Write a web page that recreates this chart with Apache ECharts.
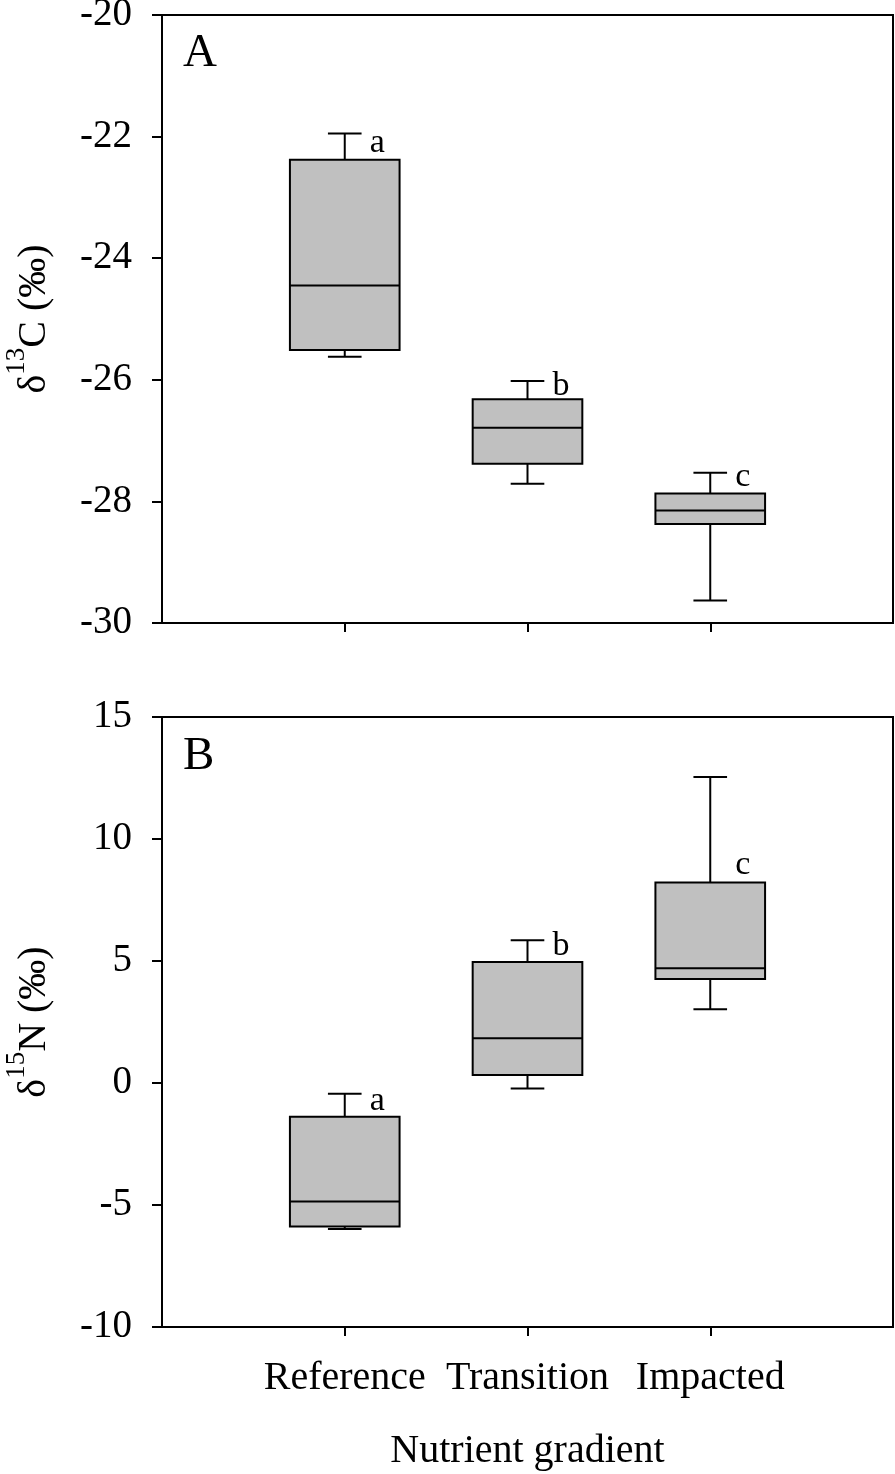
<!DOCTYPE html>
<html>
<head>
<meta charset="utf-8">
<script src="https://cdn.jsdelivr.net/npm/echarts@6/dist/echarts.min.js"></script>
<style>
  html, body { margin: 0; padding: 0; background: #fff; }
  #chart { width: 895px; height: 1474px; }
</style>
</head>
<body>
<div id="chart"></div>
<script>
// groups along the nutrient gradient
const categories = ["Reference", "Transition", "Impacted"];

// box stats per group: [min, q1, median, q3, max]
const carbonStats = [
  [-25.62, -25.51, -24.45, -22.38, -21.95],
  [-27.71, -27.38, -26.79, -26.32, -26.02],
  [-29.63, -28.37, -28.15, -27.87, -27.53],
];
const nitrogenStats = [
  [-5.98, -5.88, -4.86, -1.38, -0.44],
  [-0.23, 0.33, 1.83, 4.96, 5.85],
  [3.02, 4.26, 4.7, 8.22, 12.54],
];

// significance letters and the value they sit at
const carbonLetters = ["a", "b", "c"];
const carbonLetterY = [-22.1, -26.1, -27.6];
const nitrogenLetters = ["a", "b", "c"];
const nitrogenLetterY = [-0.75, 5.6, 8.95];

const FONT = "Liberation Serif";
const axisData = [""].concat(categories, [""]);

const toSeriesData = (stats, letterY) =>
  stats.map((s, i) => [i + 1].concat(s, [letterY[i]]));

const makeRender = (letters) => (params, api) => {
  const idx = api.value(0);
  const lo = api.coord([idx, api.value(1)]);
  const q1 = api.coord([idx, api.value(2)]);
  const med = api.coord([idx, api.value(3)]);
  const q3 = api.coord([idx, api.value(4)]);
  const hi = api.coord([idx, api.value(5)]);
  const lab = api.coord([idx, api.value(6)]);
  const band = api.size([1, 0])[0];
  const bw = band * 0.3;
  const cw = band * 0.092;
  const x = lo[0];
  const line = { stroke: "#000", lineWidth: 2 };
  return {
    type: "group",
    children: [
      { type: "line", shape: { x1: x, y1: q3[1], x2: x, y2: hi[1] }, style: line },
      { type: "line", shape: { x1: x - cw, y1: hi[1], x2: x + cw, y2: hi[1] }, style: line },
      { type: "line", shape: { x1: x, y1: q1[1], x2: x, y2: lo[1] }, style: line },
      { type: "line", shape: { x1: x - cw, y1: lo[1], x2: x + cw, y2: lo[1] }, style: line },
      {
        type: "rect",
        shape: { x: x - bw, y: q3[1], width: bw * 2, height: q1[1] - q3[1] },
        style: { fill: "#c0c0c0", stroke: "#000", lineWidth: 2 },
      },
      { type: "line", shape: { x1: x - bw, y1: med[1], x2: x + bw, y2: med[1] }, style: line },
      {
        type: "text",
        x: x + 25,
        y: lab[1],
        style: {
          text: letters[params.dataIndex],
          font: "34px '" + FONT + "'",
          fill: "#000",
          align: "left",
          verticalAlign: "middle",
        },
      },
    ],
  };
};

const yName = (iso, el) => "{d|δ}{s|" + iso + "}{d|" + el + " (‰)}";

const chart = echarts.init(document.getElementById("chart"));

const baseX = (gridIndex, showLabels) => ({
  type: "category",
  gridIndex,
  data: axisData,
  boundaryGap: false,
  axisLine: { onZero: false, lineStyle: { color: "#000", width: 2 } },
  axisTick: {
    length: 9,
    interval: (i) => i > 0 && i < axisData.length - 1,
    lineStyle: { color: "#000", width: 2 },
  },
  axisLabel: {
    show: showLabels,
    interval: 0,
    color: "#000",
    fontFamily: FONT,
    fontSize: 40,
    margin: 31,
  },
  splitLine: { show: false },
});

const baseY = (gridIndex, min, max, interval, name) => ({
  type: "value",
  gridIndex,
  min,
  max,
  interval,
  name,
  nameLocation: "middle",
  nameRotate: 90,
  nameGap: 96,
  nameTextStyle: {
    color: "#000",
    fontFamily: FONT,
    rich: {
      d: { fontFamily: FONT, fontSize: 40, color: "#000" },
      s: { fontFamily: FONT, fontSize: 27, color: "#000", padding: [0, 0, 36, 0] },
    },
  },
  axisLine: { show: true, onZero: false, lineStyle: { color: "#000", width: 2 } },
  axisTick: { show: true, length: 10, lineStyle: { color: "#000", width: 2 } },
  axisLabel: { color: "#000", fontFamily: FONT, fontSize: 39, margin: 30 },
  splitLine: { show: false },
});

const xB = baseX(1, true);
xB.name = "Nutrient gradient";
xB.nameLocation = "middle";
xB.nameGap = 104;
xB.nameTextStyle = { color: "#000", fontFamily: FONT, fontSize: 40 };

chart.setOption({
  animation: false,
  backgroundColor: "#fff",
  grid: [
    { left: 162, top: 15, width: 731, height: 608, outerBoundsMode: "none", containLabel: false, show: true, borderColor: "#000", borderWidth: 2 },
    { left: 162, top: 717, width: 731, height: 610, outerBoundsMode: "none", containLabel: false, show: true, borderColor: "#000", borderWidth: 2 },
  ],
  xAxis: [baseX(0, false), xB],
  yAxis: [
    baseY(0, -30, -20, 2, yName("13", "C")),
    baseY(1, -10, 15, 5, yName("15", "N")),
  ],
  graphic: [
    { type: "text", left: 183, top: 30, style: { text: "A", font: "47px '" + FONT + "'", fill: "#000" } },
    { type: "text", left: 183, top: 733, style: { text: "B", font: "47px '" + FONT + "'", fill: "#000" } },
  ],
  series: [
    {
      type: "custom",
      name: "d13C",
      xAxisIndex: 0,
      yAxisIndex: 0,
      renderItem: makeRender(carbonLetters),
      data: toSeriesData(carbonStats, carbonLetterY),
    },
    {
      type: "custom",
      name: "d15N",
      xAxisIndex: 1,
      yAxisIndex: 1,
      renderItem: makeRender(nitrogenLetters),
      data: toSeriesData(nitrogenStats, nitrogenLetterY),
    },
  ],
});
</script>
</body>
</html>
